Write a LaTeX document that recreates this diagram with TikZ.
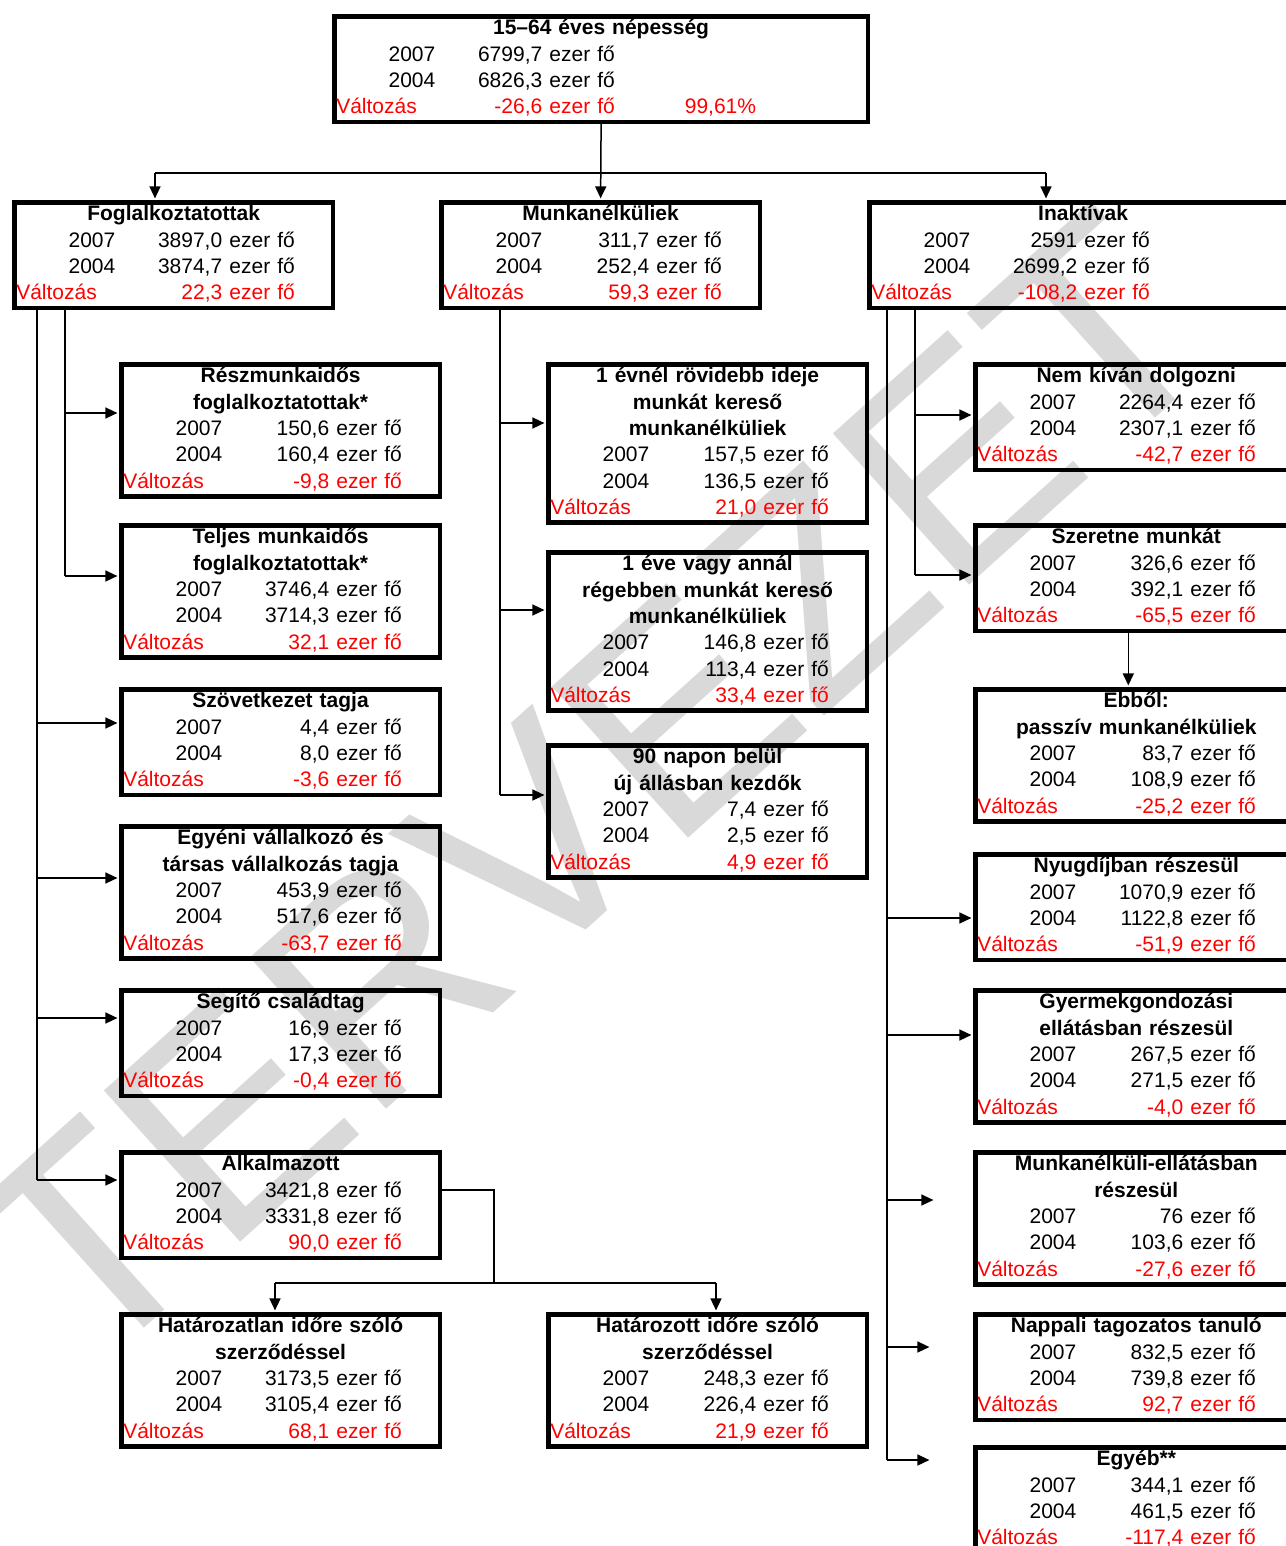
\documentclass[tikz,border=0pt]{standalone}
\usepackage{fontspec}
\setmainfont{Liberation Sans}
\usetikzlibrary{arrows.meta}

\newcommand{\cim}[1]{\makebox[\hsize][c]{\bfseries\strut #1}\\}
\newcommand{\ev}[2]{\makebox[50.5pt][r]{\strut #1}\makebox[53.5pt][r]{#2}\hspace{3.6pt}ezer fő\\}
\newcommand{\valt}[1]{\textcolor{red}{\hspace*{1pt}\makebox[49.5pt][l]{\strut Változás}\makebox[53.5pt][r]{#1}\hspace{3.6pt}ezer fő}}

\begin{document}
\begin{tikzpicture}[x=0.5pt, y=-0.5pt,
  doboz/.style={draw, line width=2.3pt, inner xsep=0pt, inner ysep=0pt, anchor=north west,
    align=left, text width=159.3pt, font=\fontsize{10.5}{13.2}\selectfont},
  nyil/.style={-{Triangle[length=6pt,width=5.5pt]}, line width=0.75pt, shorten >=0.8pt},
  vonal/.style={line width=0.75pt}]
\useasboundingbox (0,0) rectangle (1285,1546);

\node[rotate=42, text=black!15, font=\fontsize{148}{148}\selectfont] (vizjel) at (592,788) {TERVEZET};

\node[doboz, text width=266.8pt] (nepesseg) at (332,14) {\cim{15–64 éves népesség}\ev{2007}{6799,7}\ev{2004}{6826,3}\textcolor{red}{\hspace*{1pt}\makebox[49.5pt][l]{\strut Változás}\makebox[53.5pt][r]{-26,6}\hspace{3.6pt}ezer fő\hspace{35pt}99,61\%}};

\node[doboz] (fogl) at (12,200) {\cim{Foglalkoztatottak}\ev{2007}{3897,0}\ev{2004}{3874,7}\valt{22,3}};
\node[doboz] (munk) at (439,200) {\cim{Munkanélküliek}\ev{2007}{311,7}\ev{2004}{252,4}\valt{59,3}};
\node[doboz, text width=213.8pt] (inakt) at (867,200) {\cim{Inaktívak}\ev{2007}{2591}\ev{2004}{2699,2}\valt{-108,2}};

% foglalkoztatottak
\node[doboz] (resz) at (119,362) {\cim{Részmunkaidős}\cim{foglalkoztatottak*}\ev{2007}{150,6}\ev{2004}{160,4}\valt{-9,8}};
\node[doboz] (teljes) at (119,523) {\cim{Teljes munkaidős}\cim{foglalkoztatottak*}\ev{2007}{3746,4}\ev{2004}{3714,3}\valt{32,1}};
\node[doboz] (szov) at (119,687) {\cim{Szövetkezet tagja}\ev{2007}{4,4}\ev{2004}{8,0}\valt{-3,6}};
\node[doboz] (egyeni) at (119,824) {\cim{Egyéni vállalkozó és}\cim{társas vállalkozás tagja}\ev{2007}{453,9}\ev{2004}{517,6}\valt{-63,7}};
\node[doboz] (segito) at (119,988) {\cim{Segítő családtag}\ev{2007}{16,9}\ev{2004}{17,3}\valt{-0,4}};
\node[doboz] (alk) at (119,1150) {\cim{Alkalmazott}\ev{2007}{3421,8}\ev{2004}{3331,8}\valt{90,0}};
\node[doboz] (hatlan) at (119,1312) {\cim{Határozatlan időre szóló}\cim{szerződéssel}\ev{2007}{3173,5}\ev{2004}{3105,4}\valt{68,1}};
\node[doboz] (hatt) at (546,1312) {\cim{Határozott időre szóló}\cim{szerződéssel}\ev{2007}{248,3}\ev{2004}{226,4}\valt{21,9}};

% munkanelkuliek
\node[doboz] (evnel) at (546,362) {\cim{1 évnél rövidebb ideje}\cim{munkát kereső}\cim{munkanélküliek}\ev{2007}{157,5}\ev{2004}{136,5}\valt{21,0}};
\node[doboz] (eve) at (546,550) {\cim{1 éve vagy annál}\cim{régebben munkát kereső}\cim{munkanélküliek}\ev{2007}{146,8}\ev{2004}{113,4}\valt{33,4}};
\node[doboz] (napon) at (546,743) {\cim{90 napon belül}\cim{új állásban kezdők}\ev{2007}{7,4}\ev{2004}{2,5}\valt{4,9}};

% inaktivak
\node[doboz, text width=161pt] (nemkiv) at (973,362) {\cim{Nem kíván dolgozni}\ev{2007}{2264,4}\ev{2004}{2307,1}\valt{-42,7}};
\node[doboz, text width=161pt] (szer) at (973,523) {\cim{Szeretne munkát}\ev{2007}{326,6}\ev{2004}{392,1}\valt{-65,5}};
\node[doboz, text width=161pt] (ebbol) at (973,687) {\cim{Ebből:}\cim{passzív munkanélküliek}\ev{2007}{83,7}\ev{2004}{108,9}\valt{-25,2}};
\node[doboz, text width=161pt] (nyug) at (973,852) {\cim{Nyugdíjban részesül}\ev{2007}{1070,9}\ev{2004}{1122,8}\valt{-51,9}};
\node[doboz, text width=161pt] (gyer) at (973,988) {\cim{Gyermekgondozási}\cim{ellátásban részesül}\ev{2007}{267,5}\ev{2004}{271,5}\valt{-4,0}};
\node[doboz, text width=161pt] (mell) at (973,1150) {\cim{Munkanélküli-ellátásban}\cim{részesül}\ev{2007}{76}\ev{2004}{103,6}\valt{-27,6}};
\node[doboz, text width=161pt] (nappali) at (973,1312) {\cim{Nappali tagozatos tanuló}\ev{2007}{832,5}\ev{2004}{739,8}\valt{92,7}};
\node[doboz, text width=161pt] (egyeb) at (973,1445) {\cim{Egyéb**}\ev{2007}{344,1}\ev{2004}{461,5}\valt{-117,4}};

% elagazasok
\coordinate (h1) at (155,173);
\coordinate (h2) at (1046,173);
\coordinate (b1) at (65,413);
\coordinate (b2) at (65,576);
\coordinate (a1) at (37,723);
\coordinate (a2) at (37,878);
\coordinate (a3) at (37,1018);
\coordinate (a4) at (37,1180);
\coordinate (m1) at (500,423);
\coordinate (m2) at (500,610);
\coordinate (m3) at (500,795);
\coordinate (n1) at (915,415);
\coordinate (n2) at (915,575);
\coordinate (n3) at (887,918);
\coordinate (n4) at (887,1035);
\coordinate (n5) at (887,1200);
\coordinate (n6) at (887,1347);
\coordinate (n7) at (887,1460);
\coordinate (e5) at (935,1200);
\coordinate (e6) at (931,1347);
\coordinate (e7) at (931,1460);
\coordinate (k0) at (494,1283);
\coordinate (k1) at (275,1283);
\coordinate (k2) at (716,1283);

\draw[nyil] (nepesseg.south) -- (munk.north);
\draw[vonal] (h1) -- (h2);
\draw[nyil] (h1) -- (h1 |- fogl.north);
\draw[nyil] (h2) -- (h2 |- inakt.north);

\draw[vonal] (fogl.south -| b1) -- (b2);
\draw[vonal] (fogl.south -| a1) -- (a4);
\draw[vonal] (munk.south -| m1) -- (m3);
\draw[vonal] (inakt.south -| n1) -- (n2);
\draw[vonal] (inakt.south -| n3) -- (n7);

\foreach \p/\c in {b1/resz, b2/teljes, a1/szov, a2/egyeni, a3/segito, a4/alk,
    m1/evnel, m2/eve, m3/napon, n1/nemkiv, n2/szer, n3/nyug, n4/gyer}
  \draw[nyil] (\p) -- (\p -| \c.west);
\draw[nyil] (n5) -- (e5);
\draw[nyil] (n6) -- (e6);
\draw[nyil] (n7) -- (e7);

\draw[nyil] ([xshift=-4pt]szer.south) -- ([xshift=-4pt]ebbol.north);

\draw[vonal] ([yshift=7.5pt]alk.east) -| (k0);
\draw[vonal] (k1) -- (k2);
\draw[nyil] (k1) -- (k1 |- hatlan.north);
\draw[nyil] (k2) -- (k2 |- hatt.north);
\end{tikzpicture}
\end{document}
